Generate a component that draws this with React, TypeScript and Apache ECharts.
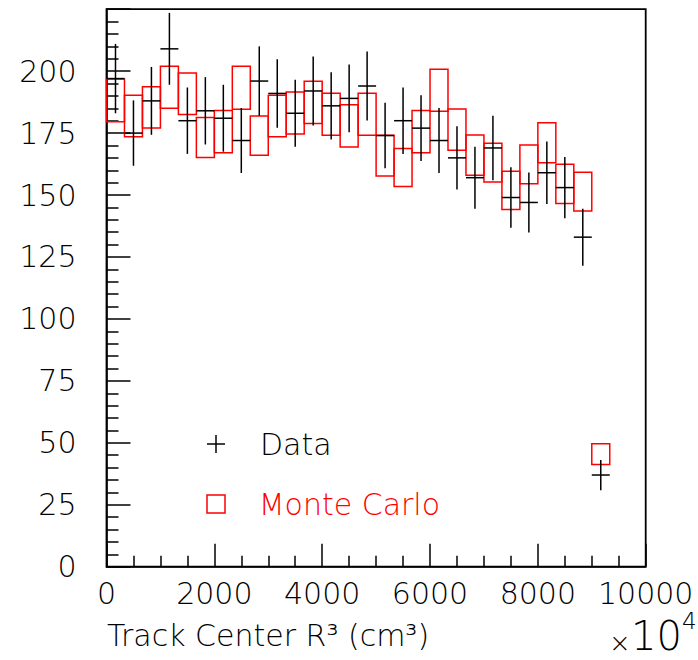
import React, { useEffect, useRef } from "react";
import * as echarts from "echarts";

// Bin centres (cm^3 / 10^4) of the 333.3-wide bins that are filled
const binCenters = [
  166.7, 500, 833.3, 1166.7, 1500, 1833.3, 2166.7, 2500, 2833.3, 3166.7,
  3500, 3833.3, 4166.7, 4500, 4833.3, 5166.7, 5500, 5833.3, 6166.7, 6500,
  6833.3, 7166.7, 7500, 7833.3, 8166.7, 8500, 8833.3, 9166.7,
];
const binWidth = 333.3;

// Data counts and their errors
const dataValues = [
  197, 175, 188, 209, 180, 184, 181, 172, 196, 191, 183, 192, 186, 189, 194,
  174, 180, 177, 172, 165, 157, 169, 149, 147, 159, 153, 133, 37,
];
const dataErrors = [
  14.0, 13.2, 13.7, 14.5, 13.4, 13.6, 13.5, 13.1, 14.0, 13.8, 13.5, 13.9, 13.6,
  13.7, 13.9, 13.2, 13.4, 13.3, 13.1, 12.8, 12.5, 13.0, 12.2, 12.1, 12.6, 12.4,
  11.5, 6.1,
];

// Monte Carlo values and their errors (boxes)
const mcValues = [
  188.2, 181.9, 185.4, 193.5, 190.9, 173.2, 175.6, 193.3, 174.0, 181.9, 183.1,
  187.4, 182.6, 177.9, 182.6, 165.9, 161.1, 175.6, 192.3, 176.4, 166.1, 163.1,
  151.9, 162.4, 171.1, 154.5, 151.4, 45.4,
];
const mcErrors = [
  8.6, 8.4, 8.3, 8.5, 8.4, 8.1, 8.5, 8.7, 7.9, 8.4, 8.5, 8.5, 8.5, 8.5, 8.5,
  8.2, 7.7, 8.5, 8.5, 8.3, 8.1, 7.8, 7.7, 7.8, 8.1, 7.9, 7.8, 4.2,
];

const xTicks = { min: 0, max: 10000, interval: 2000 };
const yTicks = { min: 0, max: 225, interval: 25 };

const FONT = "'DejaVu Sans ExtraLight', 'DejaVu Sans', sans-serif";
const WEIGHT = 200;

const textStyle = (
  text: string,
  fontSize: number,
  fill: string,
  align: "left" | "center" | "right" = "left"
) => ({
  text,
  fontSize,
  fontFamily: FONT,
  fontWeight: WEIGHT,
  fill,
  align,
  verticalAlign: "middle",
  textAlign: align,
  textVerticalAlign: "middle",
});

export default function App() {
  const ref = useRef<HTMLDivElement>(null);

  useEffect(() => {
    document.body.style.margin = "0";
    if (!ref.current) return;
    const chart = echarts.init(ref.current, null, { renderer: "svg" });

    const dataSeries = binCenters.map((x, i) => [x, dataValues[i], dataErrors[i]]);
    const mcSeries = binCenters.map((x, i) => [x, mcValues[i], mcErrors[i]]);

    const axisCommon = {
      axisLine: { show: true, lineStyle: { color: "#000", width: 1.5 } },
      splitLine: { show: false },
    };
    const tickStyle = { color: "#000", width: 1.5 };

    const option: any = {
      animation: false,
      backgroundColor: "#fff",
      grid: {
        left: 106.5,
        top: 9.2,
        width: 539.2,
        height: 557.5,
        containLabel: false,
        show: true,
        borderColor: "#000",
        borderWidth: 1.8,
        backgroundColor: "transparent",
      },
      xAxis: {
        type: "value",
        ...xTicks,
        ...axisCommon,
        axisTick: { show: true, inside: true, length: 23, lineStyle: tickStyle },
        minorTick: { show: true, splitNumber: 4, length: 11, lineStyle: tickStyle },
        axisLabel: {
          margin: 12,
          fontSize: 30,
          fontFamily: FONT,
          fontWeight: WEIGHT,
          color: "#000",
          showMaxLabel: true,
          formatter: (v: number) => String(v),
        },
      },
      yAxis: {
        type: "value",
        ...yTicks,
        ...axisCommon,
        axisTick: { show: true, inside: true, length: 24, lineStyle: tickStyle },
        minorTick: { show: true, splitNumber: 5, length: 12, lineStyle: tickStyle },
        axisLabel: {
          margin: 30,
          fontSize: 30,
          fontFamily: FONT,
          fontWeight: WEIGHT,
          color: "#000",
          formatter: (v: number) => (v >= 225 ? "" : String(v)),
        },
      },
      series: [
        {
          name: "Monte Carlo",
          type: "custom",
          data: mcSeries,
          encode: { x: 0, y: 1 },
          z: 2,
          renderItem: (params: any, api: any) => {
            const x = api.value(0);
            const y = api.value(1);
            const e = api.value(2);
            const c = api.coord([x, y]);
            const top = api.coord([x, y + e]);
            const bot = api.coord([x, y - e]);
            const hw = api.size([binWidth, 0])[0] / 2;
            return {
              type: "rect",
              shape: { x: c[0] - hw, y: top[1], width: hw * 2, height: bot[1] - top[1] },
              style: { fill: "none", stroke: "#ff0000", lineWidth: 1.5 },
            };
          },
        },
        {
          name: "Data",
          type: "custom",
          data: dataSeries,
          encode: { x: 0, y: 1 },
          z: 3,
          renderItem: (params: any, api: any) => {
            const x = api.value(0);
            const y = api.value(1);
            const e = api.value(2);
            const c = api.coord([x, y]);
            const top = api.coord([x, y + e]);
            const bot = api.coord([x, y - e]);
            const hw = api.size([binWidth, 0])[0] / 2;
            const st = { stroke: "#000", lineWidth: 1.5 };
            return {
              type: "group",
              children: [
                { type: "line", shape: { x1: c[0], y1: top[1], x2: c[0], y2: bot[1] }, style: st },
                { type: "line", shape: { x1: c[0] - hw, y1: c[1], x2: c[0] + hw, y2: c[1] }, style: st },
              ],
            };
          },
        },
      ],
      graphic: [
        // legend: Data
        { type: "line", shape: { x1: 207, y1: 444, x2: 225, y2: 444 }, style: { stroke: "#000", lineWidth: 1.5 } },
        { type: "line", shape: { x1: 216, y1: 435, x2: 216, y2: 453 }, style: { stroke: "#000", lineWidth: 1.5 } },
        { type: "text", x: 260, y: 444, style: textStyle("Data", 30, "#000") },
        // legend: Monte Carlo
        {
          type: "rect",
          shape: { x: 207, y: 495, width: 18, height: 18 },
          style: { fill: "none", stroke: "#ff0000", lineWidth: 1.5 },
        },
        { type: "text", x: 258.7, y: 504, style: textStyle("Monte Carlo", 30, "#ff0000") },
        // x-axis title
        { type: "text", x: 107, y: 635, style: textStyle("Track Center R³ (cm³)", 30, "#000") },
        // x 10^4
        { type: "text", x: 620, y: 643, style: textStyle("×", 26, "#000", "center") },
        { type: "text", x: 631, y: 636, style: textStyle("10", 40, "#000") },
        { type: "text", x: 682, y: 621, style: textStyle("4", 23, "#000") },
      ],
    };

    chart.setOption(option);
    return () => chart.dispose();
  }, []);

  return <div ref={ref} style={{ width: 698, height: 660 }} />;
}
